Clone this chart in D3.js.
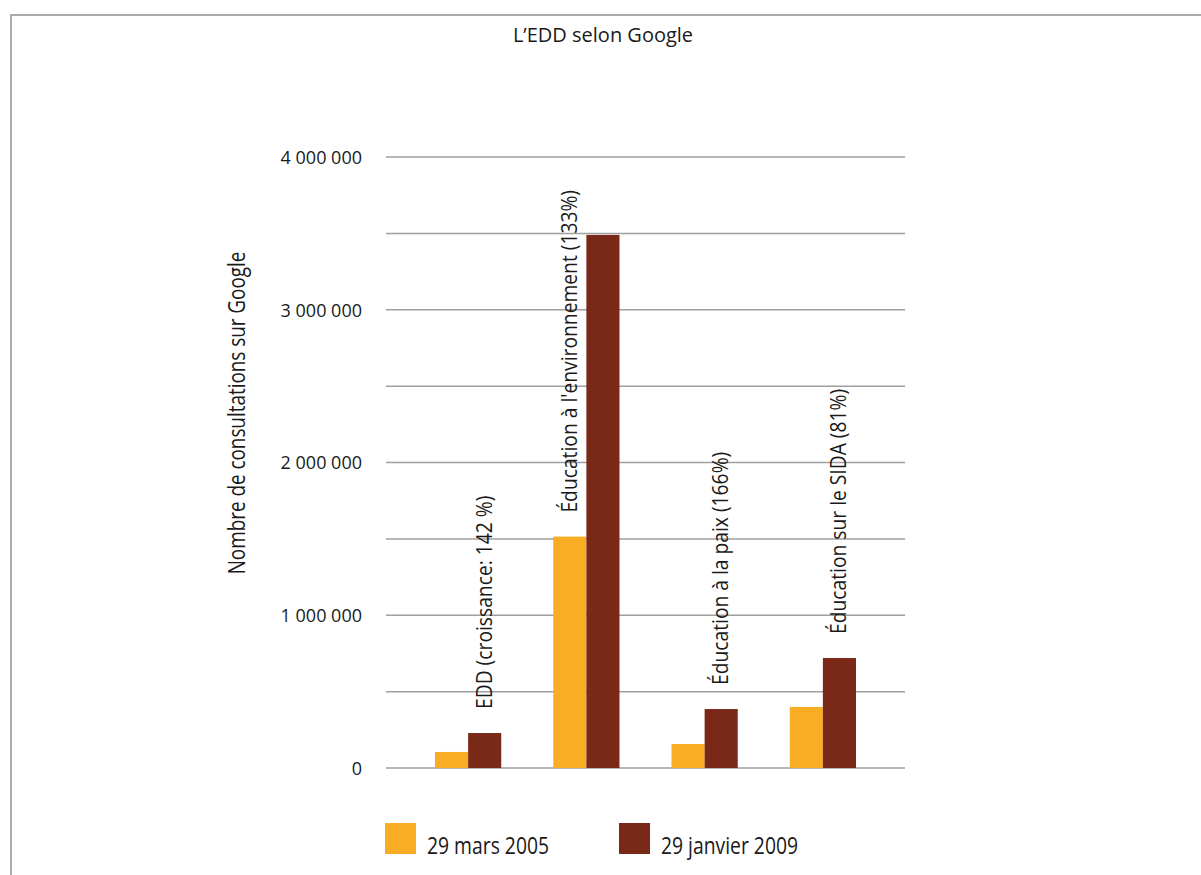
<!DOCTYPE html>
<html>
<head>
<meta charset="utf-8">
<script src="https://cdn.jsdelivr.net/npm/d3@7"></script>
<style>
  html, body { margin: 0; padding: 0; background: #fff; }
  svg { display: block; }
  text { font-family: "Open Sans", "Noto Sans", sans-serif; fill: #1a1a1a; }
</style>
</head>
<body>
<svg id="chart" width="1201" height="875"></svg>
<script>
// ---- data ----
const title = "L\u2019EDD selon Google";
const yAxisTitle = "Nombre de consultations sur Google";
const categories = ["EDD", "Environnement", "Paix", "SIDA"];
const categoryLabels = [
  "EDD (croissance: 142 %)",
  "\u00C9ducation \u00E0 l'environnement (133%)",
  "\u00C9ducation \u00E0 la paix (166%)",
  "\u00C9ducation sur le SIDA (81%)"
];
const seriesNames = ["29 mars 2005", "29 janvier 2009"];
const values2005 = [105000, 1515000, 157000, 400000];
const values2009 = [229000, 3490000, 386000, 720000];
const labelAnchorSeries = [1, 0, 1, 1]; // which series bar each label sits above
const yTickValues = [0, 1000000, 2000000, 3000000, 4000000];
const yTickLabels = ["0", "1 000 000", "2 000 000", "3 000 000", "4 000 000"];
const gridValues = [0, 500000, 1000000, 1500000, 2000000, 2500000, 3000000, 3500000, 4000000];

// ---- style / layout ----
const colors = ["#F9AD24", "#7A2919"];

const svg = d3.select("#chart");

function squeeze(sel, f) {
  sel.each(function () {
    const L = this.getComputedTextLength();
    d3.select(this).attr("textLength", L * f).attr("lengthAdjust", "spacingAndGlyphs");
  });
}

// frame
svg.append("line").attr("x1", 10).attr("x2", 1201).attr("y1", 15).attr("y2", 15)
  .attr("stroke", "#aaaaaa").attr("stroke-width", 2);
svg.append("line").attr("x1", 11).attr("x2", 11).attr("y1", 14).attr("y2", 875)
  .attr("stroke", "#aaaaaa").attr("stroke-width", 2);

// scales
const y = d3.scaleLinear().domain([0, 4000000]).range([768, 157]);
const x0 = d3.scaleBand().domain(categories).range([409, 882]).paddingInner(0.44).paddingOuter(0.22);
const x1 = d3.scaleBand().domain([0, 1]).range([0, x0.bandwidth()]);

// gridlines
svg.append("g").selectAll("line").data(gridValues).join("line")
  .attr("x1", 386).attr("x2", 905)
  .attr("y1", d => y(d)).attr("y2", d => y(d))
  .attr("stroke", "#9f9f9f").attr("stroke-width", 1.5);

// y axis tick labels
const yAxis = d3.axisLeft(y).tickValues(yTickValues)
  .tickFormat((d, i) => yTickLabels[i]).tickSize(0).tickPadding(0);
const gy = svg.append("g").attr("transform", "translate(362,0)").call(yAxis);
gy.select(".domain").remove();
gy.selectAll("text").attr("font-size", 18).attr("fill", "#1a1a1a")
  .attr("font-family", "'Open Sans', sans-serif").attr("dy", "0.36em");

// bars
const rows = categories.map((c, i) => ({ c, i, v: [values2005[i], values2009[i]] }));
const groups = svg.append("g").selectAll("g").data(rows).join("g")
  .attr("transform", d => `translate(${x0(d.c)},0)`);
groups.selectAll("rect").data(d => d.v.map((v, s) => ({ v, s }))).join("rect")
  .attr("x", d => x1(d.s)).attr("width", x1.bandwidth())
  .attr("y", d => y(d.v)).attr("height", d => y(0) - y(d.v))
  .attr("fill", d => colors[d.s]);

// rotated category labels
const labelGap = 24;
svg.append("g").selectAll("text").data(rows).join("text")
  .attr("transform", d => {
    const s = labelAnchorSeries[d.i];
    const cx = x0(d.c) + x1(s) + x1.bandwidth() / 2 + 7;
    const cy = y(d.v[s]) - labelGap;
    return `translate(${cx},${cy}) rotate(-90)`;
  })
  .attr("font-size", 22)
  .text(d => categoryLabels[d.i])
  .call(squeeze, 0.875);

// title
svg.append("text").attr("x", 603).attr("y", 42).attr("text-anchor", "middle")
  .attr("font-size", 20).text(title)
  .call(squeeze, 1.0);

// y axis title
svg.append("text").attr("transform", "translate(245,413) rotate(-90)")
  .attr("text-anchor", "middle").attr("font-size", 23)
  .text(yAxisTitle).call(squeeze, 0.82);

// legend
const legendX = [385, 619];
const lg = svg.append("g").selectAll("g").data(seriesNames).join("g")
  .attr("transform", (d, i) => `translate(${legendX[i]},823)`);
lg.append("rect").attr("width", 31).attr("height", 31).attr("fill", (d, i) => colors[i]);
lg.append("text").attr("x", 42).attr("y", 31).attr("font-size", 24)
  .text(d => d).call(squeeze, 0.805);
</script>
</body>
</html>
